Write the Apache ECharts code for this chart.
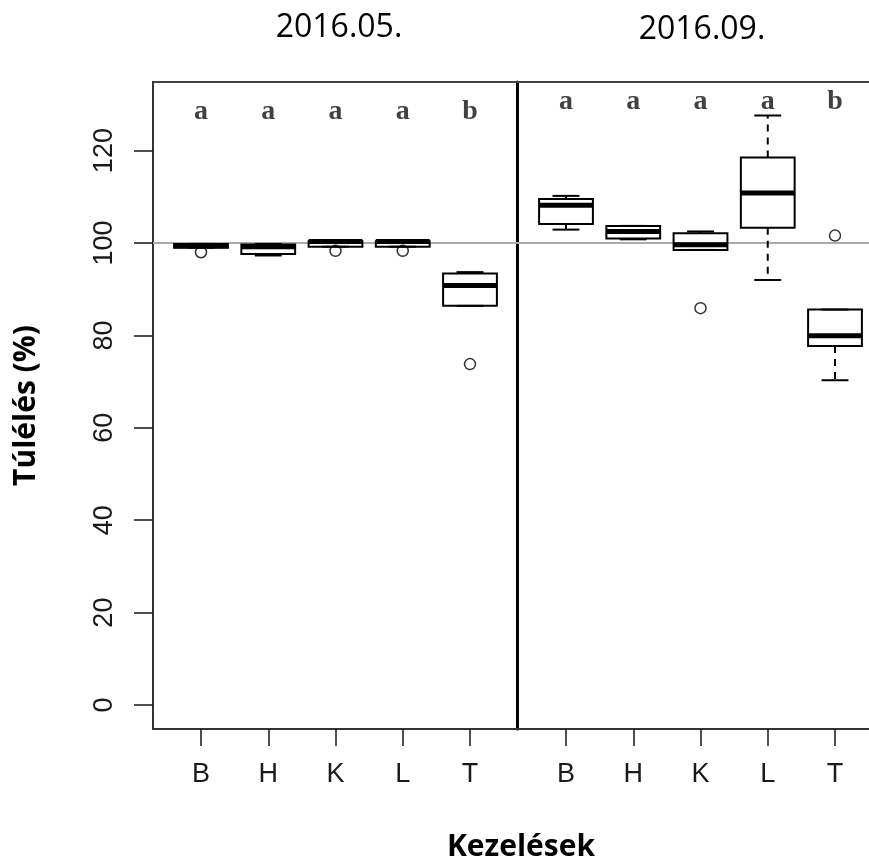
<!DOCTYPE html>
<html>
<head>
<meta charset="utf-8">
<script src="https://cdn.jsdelivr.net/npm/echarts@6/dist/echarts.min.js"></script>
<style>html,body{margin:0;padding:0;background:#fff;}#c{width:869px;height:868px;}</style>
</head>
<body>
<div id="c"></div>
<script>
// ---- data ----
const categories = ['B', 'H', 'K', 'L', 'T'];
const panelTitles = ['2016.05.', '2016.09.'];
const yTicks = [0, 20, 40, 60, 80, 100, 120];
// [lower whisker, Q1, median, Q3, upper whisker]
const boxes_2016_05 = [
  [99.0, 99.0, 99.4, 99.8, 99.8],
  [97.3, 97.6, 99.2, 99.7, 99.8],
  [99.2, 99.2, 100.3, 100.4, 100.4],
  [99.2, 99.2, 100.3, 100.4, 100.4],
  [86.4, 86.4, 90.8, 93.4, 93.7]
];
const boxes_2016_09 = [
  [102.9, 104.1, 108.2, 109.5, 110.2],
  [100.8, 101.0, 102.5, 103.7, 103.7],
  [98.5, 98.5, 99.6, 102.1, 102.5],
  [92.0, 103.3, 110.8, 118.5, 127.6],
  [70.3, 77.7, 79.9, 85.6, 85.6]
];
// outliers: [category position (1-based), value]
const outliers_2016_05 = [[1, 98.0], [3, 98.3], [4, 98.3], [5, 73.8]];
const outliers_2016_09 = [[3, 85.9], [5, 101.6]];
const letters_2016_05 = ['a', 'a', 'a', 'a', 'b'];
const letters_2016_09 = ['a', 'a', 'a', 'a', 'b'];
const referenceLine = 100;

// ---- layout ----
const UNIT = 67.25;
const G0 = {left: 153, width: 364, firstOffset: 48};
const G1 = {left: 517, width: 352, firstOffset: 49};
const TOP = 82, HEIGHT = 647;
const Y_MIN = -5.19, Y_MAX = 134.85;
const letterY0 = 128.3, letterY1 = 130.5;

const chart = echarts.init(document.getElementById('c'));

function renderBox(params, api) {
  const x = api.value(0);
  const lo = api.coord([x, api.value(1)]);
  const q1 = api.coord([x, api.value(2)]);
  const md = api.coord([x, api.value(3)]);
  const q3 = api.coord([x, api.value(4)]);
  const hi = api.coord([x, api.value(5)]);
  const hw = api.size([0.8, 0])[0] / 2;
  const cw = hw / 2;
  const cx = q1[0];
  const stroke = {stroke: '#000', lineWidth: 2, fill: null};
  const dash = {stroke: '#000', lineWidth: 2, lineDash: [7, 6]};
  const children = [];
  if (hi[1] < q3[1] - 0.5) children.push({type: 'line', shape: {x1: cx, y1: q3[1], x2: cx, y2: hi[1]}, style: dash});
  if (lo[1] > q1[1] + 0.5) children.push({type: 'line', shape: {x1: cx, y1: q1[1], x2: cx, y2: lo[1]}, style: dash});
  children.push({type: 'line', shape: {x1: cx - cw, y1: hi[1], x2: cx + cw, y2: hi[1]}, style: stroke});
  children.push({type: 'line', shape: {x1: cx - cw, y1: lo[1], x2: cx + cw, y2: lo[1]}, style: stroke});
  children.push({type: 'rect', shape: {x: cx - hw, y: q3[1], width: 2 * hw, height: q1[1] - q3[1]}, style: {stroke: '#000', lineWidth: 2, fill: 'rgba(0,0,0,0)'}});
  children.push({type: 'line', shape: {x1: cx - hw, y1: md[1], x2: cx + hw, y2: md[1]}, style: {stroke: '#000', lineWidth: 5}});
  return {type: 'group', children};
}

function xAxisFor(grid, g) {
  const min = 1 - g.firstOffset / UNIT;
  return {
    type: 'value', gridIndex: grid, position: 'bottom', min: min, max: min + g.width / UNIT,
    axisLine: {show: true, onZero: false, lineStyle: {color: '#333', width: 2}},
    splitLine: {show: false},
    axisTick: {show: true, length: 17, customValues: [1, 2, 3, 4, 5], lineStyle: {color: '#222', width: 1.6}},
    axisLabel: {show: true, customValues: [1, 2, 3, 4, 5], margin: 32,
      formatter: v => categories[Math.round(v) - 1] || '',
      fontFamily: 'Liberation Sans', fontSize: 27, color: '#1a1a1a'}
  };
}
function topAxisFor(grid, g) {
  const min = 1 - g.firstOffset / UNIT;
  return {
    type: 'value', gridIndex: grid, position: 'top', min: min, max: min + g.width / UNIT,
    axisLine: {show: true, onZero: false, lineStyle: {color: '#444', width: 2}},
    axisTick: {show: false}, axisLabel: {show: false}, splitLine: {show: false}
  };
}

const letterLabel = arr => ({show: true, position: 'inside', formatter: p => arr[p.dataIndex],
  fontFamily: 'Liberation Serif', fontWeight: 'bold', fontSize: 28, color: '#111'});

const option = {
  animation: false,
  backgroundColor: '#fff',
  title: [
    {text: panelTitles[0], left: 334, top: 7, textAlign: 'center', textStyle: {fontFamily: 'Open Sans', fontSize: 32, fontWeight: 'normal', color: '#000'}},
    {text: panelTitles[1], left: 697, top: 9, textAlign: 'center', textStyle: {fontFamily: 'Open Sans', fontSize: 32, fontWeight: 'normal', color: '#000'}},
    {text: 'Kezelések', left: 516, top: 827, textAlign: 'center', textStyle: {fontFamily: 'Open Sans', fontSize: 30, fontWeight: 'bold', color: '#000'}}
  ],
  grid: [
    {left: G0.left, top: TOP, width: G0.width, height: HEIGHT, show: true, borderColor: '#444', borderWidth: 2, backgroundColor: 'transparent'},
    {left: G1.left, top: TOP, width: G1.width, height: HEIGHT, show: false}
  ],
  xAxis: [xAxisFor(0, G0), xAxisFor(1, G1), topAxisFor(1, G1)],
  yAxis: [
    {type: 'value', gridIndex: 0, min: Y_MIN, max: Y_MAX,
      name: 'Túlélés (%)', nameLocation: 'middle', nameGap: 112, nameRotate: 90,
      nameTextStyle: {fontFamily: 'Open Sans', fontSize: 30, fontWeight: 'bold', color: '#000'},
      axisLine: {show: true, onZero: false, lineStyle: {color: '#333', width: 2}}, splitLine: {show: false},
      axisTick: {show: true, length: 19, customValues: yTicks, lineStyle: {color: '#222', width: 1.6}},
      axisLabel: {show: true, customValues: yTicks, rotate: 90, margin: 35, fontFamily: 'Liberation Sans', fontSize: 27, color: '#1a1a1a'}},
    {type: 'value', gridIndex: 1, min: Y_MIN, max: Y_MAX,
      axisLine: {show: true, onZero: false, lineStyle: {color: '#000', width: 3}},
      axisTick: {show: false}, axisLabel: {show: false}, splitLine: {show: false}}
  ],
  series: [
    {type: 'custom', xAxisIndex: 0, yAxisIndex: 0, renderItem: renderBox, z: 3,
      encode: {x: 0, y: [1, 2, 3, 4, 5]},
      data: boxes_2016_05.map((b, i) => [i + 1, ...b]),
      markLine: {silent: true, symbol: 'none', label: {show: false}, lineStyle: {color: '#aaa', width: 2, type: 'solid'}, data: [{yAxis: referenceLine}], z: 1}},
    {type: 'custom', xAxisIndex: 1, yAxisIndex: 1, renderItem: renderBox, z: 3,
      encode: {x: 0, y: [1, 2, 3, 4, 5]},
      data: boxes_2016_09.map((b, i) => [i + 1, ...b]),
      markLine: {silent: true, symbol: 'none', label: {show: false}, lineStyle: {color: '#aaa', width: 2, type: 'solid'}, data: [{yAxis: referenceLine}], z: 1}},
    {type: 'scatter', xAxisIndex: 0, yAxisIndex: 0, symbol: 'circle', symbolSize: 11, z: 4,
      itemStyle: {color: 'rgba(0,0,0,0)', borderColor: '#000', borderWidth: 1.5}, data: outliers_2016_05},
    {type: 'scatter', xAxisIndex: 1, yAxisIndex: 1, symbol: 'circle', symbolSize: 11, z: 4,
      itemStyle: {color: 'rgba(0,0,0,0)', borderColor: '#000', borderWidth: 1.5}, data: outliers_2016_09},
    {type: 'scatter', xAxisIndex: 0, yAxisIndex: 0, symbol: 'circle', symbolSize: 1, z: 5,
      itemStyle: {color: 'rgba(0,0,0,0)'}, label: letterLabel(letters_2016_05),
      data: letters_2016_05.map((l, i) => [i + 1, letterY0])},
    {type: 'scatter', xAxisIndex: 1, yAxisIndex: 1, symbol: 'circle', symbolSize: 1, z: 5,
      itemStyle: {color: 'rgba(0,0,0,0)'}, label: letterLabel(letters_2016_09),
      data: letters_2016_09.map((l, i) => [i + 1, letterY1])}
  ]
};
chart.setOption(option);
</script>
</body>
</html>
